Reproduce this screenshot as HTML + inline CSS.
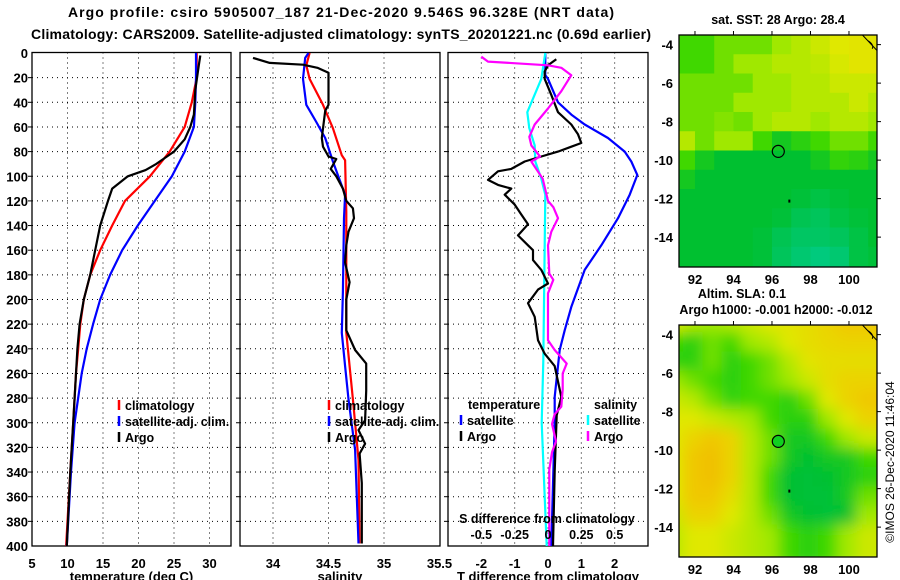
<!DOCTYPE html>
<html><head><meta charset="utf-8">
<style>
html,body{margin:0;padding:0;background:#fff;}
svg{display:block;font-family:"Liberation Sans",Arial,sans-serif;font-weight:bold;}
</style></head>
<body>
<svg id="fig" width="900" height="580" viewBox="0 0 900 580" xmlns="http://www.w3.org/2000/svg">
<defs>
<clipPath id="cm1"><rect x="679" y="35" width="198" height="232"/></clipPath>
<clipPath id="cm2"><rect x="679" y="325" width="198" height="232"/></clipPath>
<filter id="blur2" x="-10%" y="-10%" width="120%" height="120%"><feGaussianBlur stdDeviation="7"/></filter>
</defs>
<text x="341" y="17" text-anchor="middle" font-size="14" textLength="546">Argo profile: csiro 5905007_187 21-Dec-2020 9.546S 96.328E (NRT data)</text>
<text x="341" y="39" text-anchor="middle" font-size="14" textLength="620">Climatology: CARS2009. Satellite-adjusted climatology: synTS_20201221.nc (0.69d earlier)</text>
<g id="plots"></g>
<g id="maps"></g>
<text transform="translate(894,462) rotate(-90)" text-anchor="middle" font-size="12" font-weight="normal">©IMOS 26-Dec-2020 11:46:04</text>
</svg>
<script>
// ---------- profile data ----------
const tempDepth = [0,20,40,60,80,100,120,140,160,180,200,220,240,260,300,340,400];
const tempClim  = [28.2,28.2,27.5,26.5,24.4,21.6,18.1,16.3,14.6,13.2,12.3,11.8,11.5,11.2,10.8,10.4,9.8];
const tempSat   = [28.1,28.1,28.0,27.8,26.5,24.7,22.3,19.9,17.7,16.0,14.6,13.6,12.7,12.0,11.0,10.5,9.9];
const argoTDepth = [2,10,30,50,60,70,80,90,95,100,110,120,140,160,180,200,220,240,260,300,340,400];
const argoT      = [28.7,28.5,28.0,27.8,27.3,26.5,25.0,22.5,21.0,18.5,16.3,15.7,14.6,13.9,13.2,12.3,11.7,11.4,11.2,10.8,10.4,9.9];

const salDepth = [0,10,21,42,61,83,87,129,194,227,254,281,330,398];
const salClim  = [34.33,34.30,34.33,34.45,34.54,34.62,34.65,34.66,34.66,34.66,34.69,34.72,34.77,34.78];
const salSatDepth = [0,4,21,42,56,69,88,115,134,194,227,254,281,322,398];
const salSat      = [34.32,34.29,34.27,34.30,34.39,34.47,34.54,34.65,34.64,34.63,34.62,34.65,34.68,34.74,34.77];
const argoSDepth = [4,8,9.5,12,16,42,47,69,76,84,86,94,100,110,120,126,134,145,156,170,186,200,225,241,252,274,298,306,317,325,349,398];
const argoS      = [33.82,33.97,34.27,34.40,34.50,34.50,34.47,34.44,34.45,34.50,34.57,34.52,34.57,34.63,34.66,34.72,34.73,34.68,34.66,34.65,34.69,34.66,34.66,34.74,34.84,34.84,34.83,34.77,34.83,34.78,34.80,34.80];

const dTSatDepth = [0,18,21,40,50,58,69,80,88,99,115,134,156,176,206,225,241,279,300,400];
const dTSat      = [-0.08,-0.08,0,0.3,0.7,1.1,1.8,2.3,2.5,2.68,2.45,2.1,1.6,1.1,0.7,0.5,0.35,0.2,0.2,0.1];
const dTArgoDepth = [5,10,15,21,34,48,58,66,73,76,80,84,88,94,96,103,107,110,115,123,131,139,148,156,160,168,176,187,192,203,214,233,244,254,279,294,339,400];
const dTArgo      = [0.25,0,-0.1,-0.1,0.1,0.3,0.7,0.9,1.0,0.7,0.3,-0.2,-0.7,-1.1,-1.5,-1.8,-1.5,-1.1,-1.3,-1.0,-0.8,-0.6,-0.9,-0.6,-0.45,-0.45,-0.2,0,-0.3,-0.6,-0.4,-0.3,-0.1,0.2,0.4,0.26,0.2,0.15];
const dSSatDepth = [0,21,48,61,75,88,102,115,156,250,300,400];
const dSSat      = [-0.02,-0.05,-0.155,-0.14,-0.1,-0.095,-0.05,-0.02,-0.025,-0.035,-0.047,-0.01];
const dSArgoDepth = [3,7,10,12,18,31,45,58,68,75,84,88,102,120,125,134,145,156,179,184,195,233,241,252,260,273,287,293,301,315,324,338,400];
const dSArgo      = [-0.5,-0.45,0,0.1,0.175,0.1,0,-0.1,-0.14,-0.125,-0.06,-0.125,-0.04,0,0.04,0.075,0.025,0,0.01,0.04,0,0,0.05,0.14,0.11,0.11,0.1,0.05,0.03,0.06,0.03,0.01,0.01];

const depthTicks = [0,20,40,60,80,100,120,140,160,180,200,220,240,260,280,300,320,340,360,380,400];
const tempTicks = [5,10,15,20,25,30];
const salTicks = [34,34.5,35,35.5];
const salTickLabels = ["34","34.5","35","35.5"];
const dTTicks = [-2,-1,0,1,2];
const dTTickLabels = ["-2","-1","0","1","2"];
const dSTicks = [-0.5,-0.25,0,0.25,0.5];
const dSTickLabels = ["-0.5","-0.25","0","0.25","0.5"];

// ---------- map data (values 0=cyan .. 1=orange) ----------
const mapLons = [91.5,92.5,93.5,94.5,95.5,96.5,97.5,98.5,99.5,100.5,101.5];
const mapLats = [-4,-5,-6,-7,-8,-9,-10,-11,-12,-13,-14,-15];
const sstGrid = [
[.45,.45,.5,.5,.5,.55,.6,.65,.7,.72,.72],
[.45,.45,.5,.55,.55,.6,.6,.62,.68,.72,.72],
[.5,.5,.5,.5,.55,.55,.6,.6,.65,.65,.65],
[.5,.5,.5,.55,.55,.55,.6,.6,.6,.65,.6],
[.5,.5,.52,.5,.55,.6,.6,.55,.6,.6,.55],
[.6,.5,.55,.55,.45,.35,.4,.45,.5,.5,.45],
[.45,.35,.3,.3,.3,.3,.3,.35,.42,.4,.35],
[.35,.3,.3,.3,.3,.3,.3,.3,.3,.3,.3],
[.3,.3,.3,.3,.3,.3,.28,.25,.28,.3,.3],
[.3,.3,.3,.3,.3,.28,.22,.2,.25,.28,.3],
[.3,.3,.3,.3,.28,.22,.18,.18,.2,.25,.3],
[.3,.3,.3,.3,.28,.2,.15,.12,.15,.25,.28]];
const slaGrid = [
[.7,.6,.55,.6,.65,.7,.72,.75,.8,.85,.85],
[.45,.4,.5,.45,.55,.6,.7,.75,.78,.8,.8],
[.4,.4,.5,.4,.45,.5,.6,.72,.75,.75,.75],
[.55,.5,.45,.4,.45,.5,.55,.65,.75,.8,.8],
[.65,.6,.5,.42,.45,.45,.4,.5,.7,.8,.85],
[.7,.7,.65,.6,.55,.45,.4,.4,.55,.7,.8],
[.7,.8,.85,.8,.6,.5,.35,.35,.45,.55,.65],
[.7,.85,.88,.8,.6,.5,.35,.3,.35,.35,.45],
[.7,.85,.88,.8,.6,.45,.3,.28,.3,.35,.4],
[.7,.85,.85,.75,.6,.45,.3,.28,.28,.35,.5],
[.65,.8,.8,.7,.6,.5,.35,.3,.28,.3,.55],
[.6,.7,.7,.65,.6,.55,.45,.4,.45,.55,.65]];
const lonTicks = [92,94,96,98,100];
const latTicks = [-4,-6,-8,-10,-12,-14];
const argoLon = 96.328, argoLat = -9.546;

const NS = "http://www.w3.org/2000/svg";
function mk(tag, attrs, parent){const e=document.createElementNS(NS,tag);for(const k in attrs)e.setAttribute(k,attrs[k]);parent.appendChild(e);return e;}
const plots = document.getElementById('plots');
const Y0=53, KY=1.2325;
const yD = d => Y0 + d*KY;

function panel(name, x0, x1, xf, ticks, tickLabels, title){
  const g = mk('g',{},plots);
  
  
  for(const t of ticks){const x=xf(t); if(x<=x0+1||x>=x1-1) continue;
    const l=mk('line',{x1:x,x2:x,y1:52.5,y2:546,stroke:'#000','stroke-width':1,'stroke-dasharray':'1,4'},g);
    
    }
  for(const d of depthTicks){ if(d===0||d===400) continue;
    const l=mk('line',{x1:x0,x2:x1,y1:yD(d),y2:yD(d),stroke:'#000','stroke-width':1,'stroke-dasharray':'1,4'},g);
    
    
    const tk=mk('line',{x1:x0-4,x2:x0,y1:yD(d),y2:yD(d),stroke:'#000'},g);
    
    }
  const fr=mk('rect',{x:x0,y:52.5,width:x1-x0,height:493.5,fill:'none',stroke:'#000','stroke-width':1.3},g);
  
  
  ticks.forEach((t,i)=>{const x=xf(t); if(x<x0-12||x>x1+12) return;
    const tx=mk('text',{x:x,y:568,'text-anchor':'middle','font-size':13},g); tx.textContent=tickLabels[i];
    
    });
  const tt=mk('text',{x:(x0+x1)/2,y:581,'text-anchor':'middle','font-size':13},g); tt.textContent=title;
  
  
  return g;
}
function series(g, name, depths, vals, xf, color, w){
  const pts = depths.map((d,i)=>xf(vals[i]).toFixed(1)+','+yD(d).toFixed(1)).join(' ');
  const p = mk('polyline',{points:pts,fill:'none',stroke:color,'stroke-width':w||2.2,'stroke-linejoin':'round'},g);
  
  
}
function legendEntry(g, name, x, y, color, label){
  const l=mk('line',{x1:x,x2:x,y1:y-10,y2:y,stroke:color,'stroke-width':2.5},g);
  
  
  const t=mk('text',{x:x+6,y:y,'font-size':12.5},g); t.textContent=label;
  
  
}

for(const d of depthTicks){
  const t=mk('text',{x:28,y:yD(d)+5,'text-anchor':'end','font-size':13},plots); t.textContent=d;
  
  
}

const xT = v => 32 + (v-5)*7.1;
const g1 = panel('temperature', 32, 231, xT, tempTicks, tempTicks.map(String), 'temperature (deg C)');
series(g1,'temp-climatology-line',tempDepth,tempClim,xT,'#f00');
series(g1,'temp-satellite-line',tempDepth,tempSat,xT,'#00f');
series(g1,'temp-argo-line',argoTDepth,argoT,xT,'#000');
legendEntry(g1,'legend-climatology',119,410,'#f00','climatology');
legendEntry(g1,'legend-satellite-adj',119,426,'#00f','satellite-adj. clim.');
legendEntry(g1,'legend-argo',119,442,'#000','Argo');

const xS = v => 273 + (v-34)*111;
const g2 = panel('salinity', 240, 440, xS, salTicks, salTickLabels, 'salinity');
series(g2,'sal-climatology-line',salDepth,salClim,xS,'#f00');
series(g2,'sal-satellite-line',salSatDepth,salSat,xS,'#00f');
series(g2,'sal-argo-line',argoSDepth,argoS,xS,'#000');
legendEntry(g2,'legend-climatology',329,410,'#f00','climatology');
legendEntry(g2,'legend-satellite-adj',329,426,'#00f','satellite-adj. clim.');
legendEntry(g2,'legend-argo',329,442,'#000','Argo');

const xdT = v => 548 + v*33.33;
const xdS = v => 548 + v*133.33;
const g3 = panel('difference', 448, 648, xdT, dTTicks, dTTickLabels, 'T difference from climatology');
series(g3,'tdiff-satellite-line',dTSatDepth,dTSat,xdT,'#00f');
series(g3,'sdiff-satellite-line',dSSatDepth,dSSat,xdS,'#0ff');
series(g3,'tdiff-argo-line',dTArgoDepth,dTArgo,xdT,'#000');
series(g3,'sdiff-argo-line',dSArgoDepth,dSArgo,xdS,'#f0f');
{const t=mk('text',{x:468,y:409,'font-size':12.5},g3);t.textContent='temperature';
 
 const s=mk('text',{x:594,y:409,'font-size':12.5},g3);s.textContent='salinity';
 }
legendEntry(g3,'legend-t-satellite',461,425,'#00f','satellite');
legendEntry(g3,'legend-t-argo',461,441,'#000','Argo');
legendEntry(g3,'legend-s-satellite',588,425,'#0ff','satellite');
legendEntry(g3,'legend-s-argo',588,441,'#f0f','Argo');
{const t=mk('text',{x:547,y:523,'text-anchor':'middle','font-size':12.5},g3);t.textContent='S difference from climatology';
 }
dSTicks.forEach((v,i)=>{const t=mk('text',{x:xdS(v),y:539,'text-anchor':'middle','font-size':12.5},g3);t.textContent=dSTickLabels[i];
 });

const maps = document.getElementById('maps');
const stops = [[0,[0,208,176]],[0.3,[0,192,48]],[0.45,[64,216,0]],[0.55,[160,232,0]],[0.7,[224,232,0]],[0.85,[240,200,0]],[1,[240,160,0]]];
function col(v){for(let i=1;i<stops.length;i++){if(v<=stops[i][0]){const a=stops[i-1],b=stops[i];const f=(v-a[0])/(b[0]-a[0]);
  const c=a[1].map((x,k)=>Math.round(x+(b[1][k]-x)*f));return 'rgb('+c.join(',')+')';}}return 'rgb(240,160,0)';}
function drawMap(name, top, grid, clip, blur){
  const K=19.25, lon0=91.17, lat0=-3.5;
  const xL = l => 679 + (l-lon0)*K;
  const yL = l => top + (lat0-l)*K;
  const g = mk('g',{},maps);
  
  
  const cg = mk('g',{'clip-path':'url(#'+clip+')'},g);
  const ig = mk('g',blur?{filter:'url(#blur2)'}:{},cg);
  grid.forEach((row,r)=>row.forEach((v,c)=>{
    const rc=mk('rect',{x:xL(mapLons[c]-0.5)-(blur?12:0),y:yL(mapLats[r]+0.5)-(blur?12:0),width:K+(blur?24:0.5),height:K+(blur?24:0.5),fill:col(v)},ig);
    
    
  }));
  const coast=mk('path',{d:'M'+xL(100.7)+','+yL(-3.5)+' L'+xL(101.45)+','+yL(-4.3)+' M'+xL(101.0)+','+yL(-3.8)+' q6,4 4,8',fill:'none',stroke:'#000','stroke-width':1},cg);
  
  
  const circ=mk('circle',{cx:xL(argoLon),cy:yL(argoLat),r:6,fill:blur?'#10d020':'none',stroke:'#000','stroke-width':1.2},g);
  
  
  const dot=mk('rect',{x:xL(96.85),y:yL(-12.05),width:2,height:3,fill:'#000'},g);
  
  
  const fr=mk('rect',{x:679,y:top,width:198,height:232,fill:'none',stroke:'#000','stroke-width':1.3},g);
  
  
  lonTicks.forEach(l=>{
    const tk=mk('line',{x1:xL(l),x2:xL(l),y1:top,y2:top-4,stroke:'#000'},g);
    
    
    const t=mk('text',{x:xL(l),y:top+232+17,'text-anchor':'middle','font-size':13},g);t.textContent=l;
    
    });
  latTicks.forEach(l=>{
    const tk=mk('line',{x1:877,x2:881,y1:yL(l),y2:yL(l),stroke:'#000'},g);
    
    
    const t=mk('text',{x:673,y:yL(l)+5,'text-anchor':'end','font-size':13},g);t.textContent=l;
    
    });
}
drawMap('sst-map',35,sstGrid,'cm1',false);
drawMap('sla-map',325,slaGrid,'cm2',true);
[['sst-map-title',778,24,'sat. SST: 28 Argo: 28.4'],['sla-map-title',742,298,'Altim. SLA: 0.1'],['sla-map-subtitle',776,314,'Argo h1000: -0.001 h2000: -0.012']].forEach(a=>{
  const t=mk('text',{x:a[1],y:a[2],'text-anchor':'middle','font-size':12.5},maps);t.textContent=a[3];
  
  
});
</script>
</body></html>
